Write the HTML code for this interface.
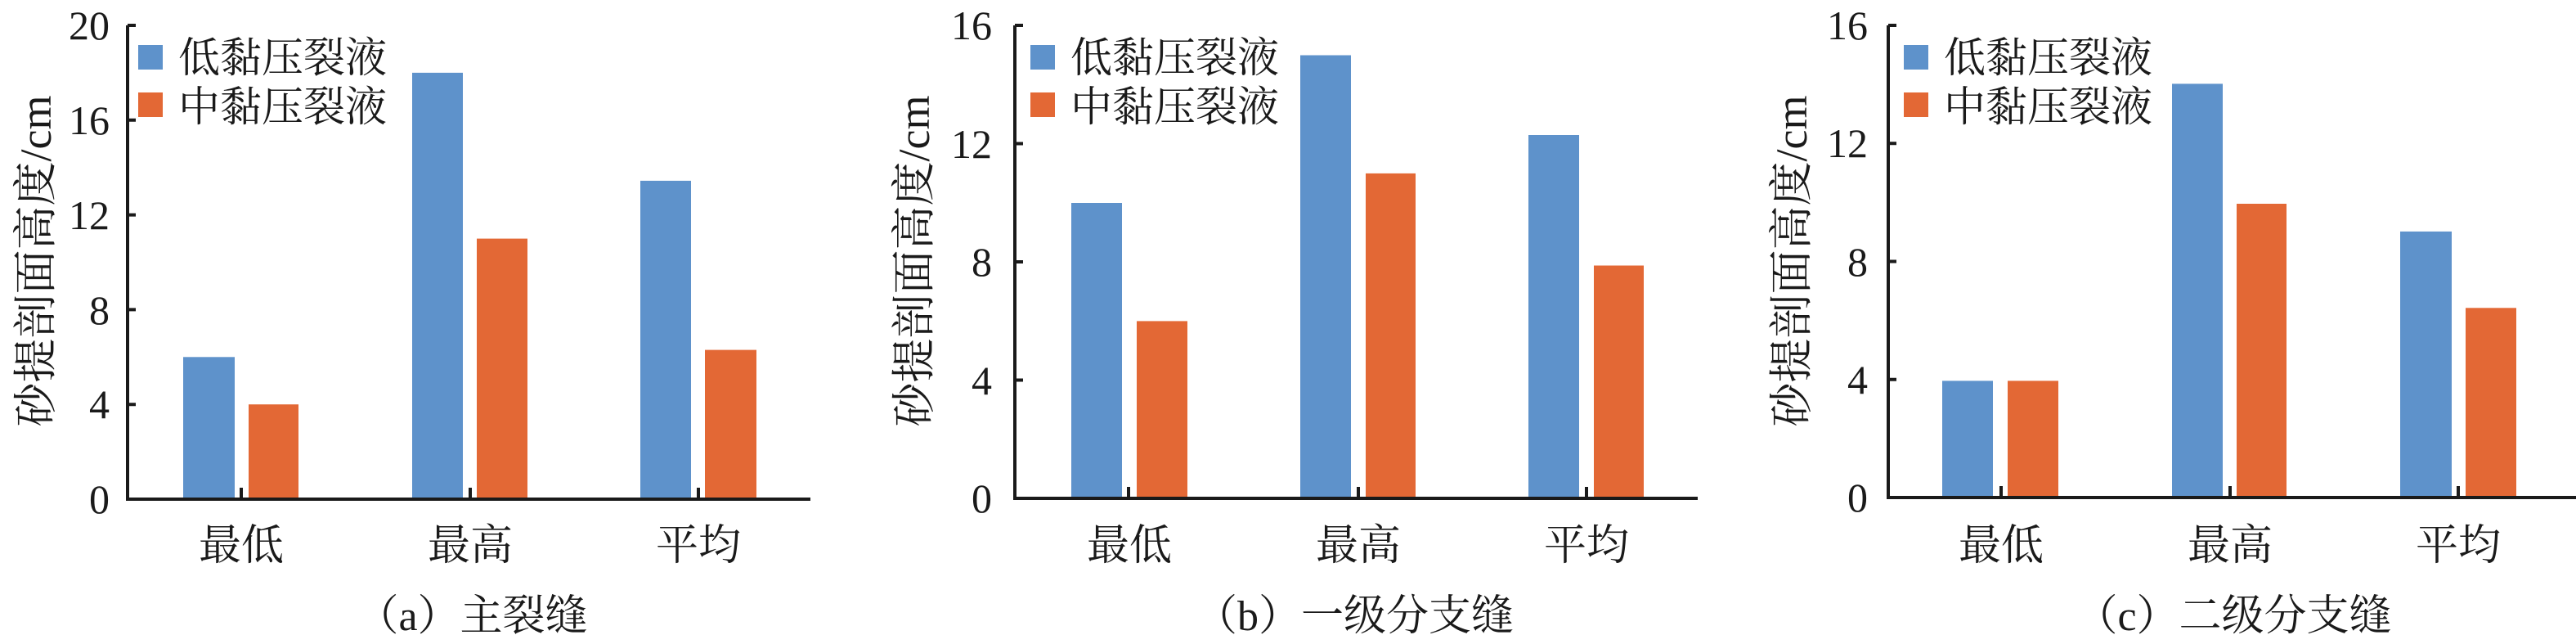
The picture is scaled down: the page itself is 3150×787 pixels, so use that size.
<!DOCTYPE html>
<html><head><meta charset="utf-8"><style>
html,body{margin:0;padding:0;background:#fff;}
svg{display:block;}
text{font-family:"Liberation Serif","Noto Serif CJK SC",serif;fill:#1a1a1a;}
</style></head><body>
<svg width="3150" height="787" viewBox="0 0 3150 787" xmlns="http://www.w3.org/2000/svg">
<!-- Panel A -->
<g>
<g fill="#5e92cb"><rect x="224" y="436.3" width="63" height="173.7"/><rect x="504" y="88.9" width="62" height="521.1"/><rect x="783" y="220.9" width="62" height="389.1"/></g>
<g fill="#e36835"><rect x="304" y="494.2" width="61" height="115.8"/><rect x="583" y="291.6" width="62" height="318.4"/><rect x="862" y="427.6" width="63" height="182.4"/></g>
<g stroke="#1a1a1a" stroke-width="4" fill="none">
<path d="M156 31 V610 H991"/>
<path d="M156 31 h10 M156 146.8 h10 M156 262.6 h10 M156 378.4 h10 M156 494.2 h10"/>
<path d="M295 610 v-14 M575 610 v-14 M854 610 v-14"/>
</g>
<g font-size="50" text-anchor="end">
<text x="134" y="48">20</text><text x="134" y="164">16</text><text x="134" y="280">12</text><text x="134" y="396">8</text><text x="134" y="511">4</text><text x="134" y="627">0</text>
</g>
<rect x="169" y="55" width="30" height="30" fill="#5e92cb"/><rect x="169" y="113" width="30" height="30" fill="#e36835"/>
<text x="218" y="88" font-size="51">低黏压裂液</text><text x="218" y="148" font-size="51">中黏压裂液</text>
<g font-size="52" text-anchor="middle"><text x="295" y="684">最低</text><text x="575" y="684">最高</text><text x="854" y="684">平均</text></g>
<text x="577" y="770" font-size="52" text-anchor="middle">（a）主裂缝</text>
<text transform="translate(62,319) rotate(-90)" font-size="54" text-anchor="middle">砂提剖面高度/cm</text>
</g>
<!-- Panel B -->
<g>
<g fill="#5e92cb"><rect x="1310" y="248" width="62" height="361"/><rect x="1590" y="67.5" width="62" height="541.5"/><rect x="1869" y="165" width="62" height="444"/></g>
<g fill="#e36835"><rect x="1390" y="392.4" width="62" height="216.6"/><rect x="1670" y="211.9" width="61" height="397.1"/><rect x="1949" y="324.5" width="61" height="284.5"/></g>
<g stroke="#1a1a1a" stroke-width="4" fill="none">
<path d="M1241 31 V609 H2076"/>
<path d="M1241 31 h10 M1241 175.5 h10 M1241 320 h10 M1241 464.5 h10"/>
<path d="M1380 609 v-14 M1661 609 v-14 M1940 609 v-14"/>
</g>
<g font-size="50" text-anchor="end">
<text x="1213" y="48">16</text><text x="1213" y="193">12</text><text x="1213" y="337">8</text><text x="1213" y="482">4</text><text x="1213" y="626">0</text>
</g>
<rect x="1260" y="55" width="30" height="30" fill="#5e92cb"/><rect x="1260" y="113" width="30" height="30" fill="#e36835"/>
<text x="1309" y="88" font-size="51">低黏压裂液</text><text x="1309" y="148" font-size="51">中黏压裂液</text>
<g font-size="52" text-anchor="middle"><text x="1381" y="684">最低</text><text x="1661" y="684">最高</text><text x="1940" y="684">平均</text></g>
<text x="1656" y="770" font-size="52" text-anchor="middle">（b）一级分支缝</text>
<text transform="translate(1136,319) rotate(-90)" font-size="54" text-anchor="middle">砂提剖面高度/cm</text>
</g>
<!-- Panel C -->
<g>
<g fill="#5e92cb"><rect x="2375" y="465.4" width="62" height="142.6"/><rect x="2656" y="102.4" width="62" height="505.6"/><rect x="2935" y="282.9" width="63" height="325.1"/></g>
<g fill="#e36835"><rect x="2455" y="465.4" width="62" height="142.6"/><rect x="2735" y="249" width="61" height="359"/><rect x="3015" y="376.3" width="62" height="231.7"/></g>
<g stroke="#1a1a1a" stroke-width="4" fill="none">
<path d="M2309 31 V608 H3150"/>
<path d="M2309 31 h10 M2309 175.3 h10 M2309 319.5 h10 M2309 463.8 h10"/>
<path d="M2447 608 v-14 M2727 608 v-14 M3006 608 v-14"/>
</g>
<g font-size="50" text-anchor="end">
<text x="2284" y="48">16</text><text x="2284" y="192">12</text><text x="2284" y="337">8</text><text x="2284" y="481">4</text><text x="2284" y="625">0</text>
</g>
<rect x="2328" y="55" width="30" height="30" fill="#5e92cb"/><rect x="2328" y="113" width="30" height="30" fill="#e36835"/>
<text x="2377" y="88" font-size="51">低黏压裂液</text><text x="2377" y="148" font-size="51">中黏压裂液</text>
<g font-size="52" text-anchor="middle"><text x="2447" y="684">最低</text><text x="2727" y="684">最高</text><text x="3006" y="684">平均</text></g>
<text x="2731" y="770" font-size="52" text-anchor="middle">（c）二级分支缝</text>
<text transform="translate(2209,319) rotate(-90)" font-size="54" text-anchor="middle">砂提剖面高度/cm</text>
</g>
</svg>
</body></html>
